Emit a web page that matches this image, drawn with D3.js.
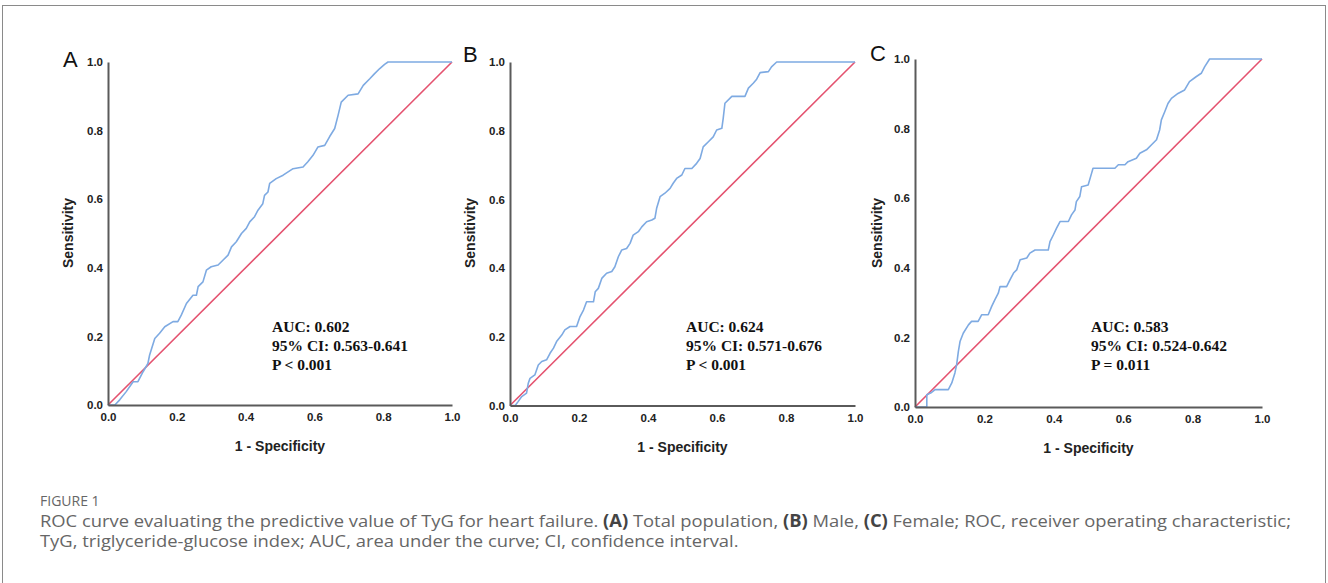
<!DOCTYPE html>
<html>
<head>
<meta charset="utf-8">
<script src="https://cdn.jsdelivr.net/npm/d3@7"></script>
<style>
  html, body { margin: 0; padding: 0; background: #fff; }
  svg { display: block; }
</style>
</head>
<body>
<svg id="chart" width="1328" height="583"></svg>
<script>
// ---------------- DATA ----------------
const panelLetters = ["A", "B", "C"];
const tickValues = [0.0, 0.2, 0.4, 0.6, 0.8, 1.0];
const xAxisTitle = "1 - Specificity";
const yAxisTitle = "Sensitivity";

const rocA_fpr = [0, 0.02, 0.034, 0.053, 0.073, 0.087, 0.102, 0.116, 0.121, 0.136, 0.150, 0.165, 0.189, 0.203, 0.213, 0.228, 0.247, 0.257, 0.262, 0.276, 0.286, 0.300, 0.320, 0.334, 0.349, 0.359, 0.373, 0.388, 0.402, 0.412, 0.426, 0.436, 0.450, 0.455, 0.465, 0.470, 0.489, 0.509, 0.538, 0.567, 0.581, 0.596, 0.610, 0.630, 0.644, 0.659, 0.669, 0.678, 0.698, 0.727, 0.742, 0.761, 0.775, 0.790, 0.804, 0.814, 1.0];
const rocA_tpr = [0, 0.0, 0.015, 0.039, 0.068, 0.068, 0.097, 0.121, 0.146, 0.194, 0.209, 0.228, 0.243, 0.243, 0.262, 0.296, 0.320, 0.320, 0.345, 0.359, 0.393, 0.403, 0.408, 0.422, 0.437, 0.461, 0.476, 0.500, 0.515, 0.534, 0.549, 0.568, 0.587, 0.611, 0.621, 0.646, 0.660, 0.670, 0.689, 0.694, 0.709, 0.728, 0.752, 0.757, 0.782, 0.806, 0.845, 0.883, 0.903, 0.907, 0.932, 0.951, 0.966, 0.981, 0.993, 1.0, 1.0];

const rocB_fpr = [0, 0.015, 0.024, 0.034, 0.048, 0.053, 0.058, 0.072, 0.082, 0.092, 0.106, 0.116, 0.126, 0.135, 0.150, 0.159, 0.174, 0.193, 0.203, 0.213, 0.222, 0.242, 0.247, 0.256, 0.266, 0.280, 0.295, 0.304, 0.314, 0.324, 0.338, 0.348, 0.357, 0.372, 0.382, 0.396, 0.411, 0.420, 0.425, 0.435, 0.449, 0.464, 0.473, 0.483, 0.498, 0.507, 0.527, 0.541, 0.551, 0.560, 0.575, 0.589, 0.599, 0.614, 0.618, 0.623, 0.643, 0.681, 0.691, 0.705, 0.715, 0.725, 0.749, 0.758, 0.773, 1.0];
const rocB_tpr = [0, 0.0, 0.012, 0.026, 0.036, 0.065, 0.079, 0.089, 0.118, 0.128, 0.133, 0.152, 0.167, 0.186, 0.205, 0.220, 0.230, 0.230, 0.259, 0.278, 0.302, 0.302, 0.331, 0.341, 0.370, 0.385, 0.390, 0.404, 0.433, 0.453, 0.457, 0.472, 0.496, 0.506, 0.520, 0.535, 0.540, 0.545, 0.574, 0.608, 0.618, 0.632, 0.647, 0.661, 0.671, 0.690, 0.690, 0.705, 0.719, 0.753, 0.768, 0.782, 0.802, 0.807, 0.836, 0.880, 0.900, 0.900, 0.924, 0.938, 0.950, 0.969, 0.972, 0.986, 1.0, 1.0];

const rocC_fpr = [0, 0.034, 0.034, 0.045, 0.058, 0.096, 0.106, 0.115, 0.120, 0.125, 0.130, 0.139, 0.154, 0.163, 0.182, 0.192, 0.211, 0.221, 0.230, 0.240, 0.245, 0.264, 0.274, 0.284, 0.293, 0.303, 0.322, 0.331, 0.346, 0.384, 0.389, 0.399, 0.408, 0.418, 0.442, 0.451, 0.461, 0.465, 0.475, 0.480, 0.499, 0.509, 0.513, 0.576, 0.586, 0.605, 0.614, 0.638, 0.648, 0.667, 0.681, 0.696, 0.705, 0.710, 0.720, 0.729, 0.739, 0.758, 0.777, 0.791, 0.810, 0.825, 0.835, 0.849, 1.0];
const rocC_tpr = [0, 0.0, 0.035, 0.040, 0.050, 0.050, 0.069, 0.098, 0.122, 0.160, 0.189, 0.212, 0.236, 0.246, 0.246, 0.265, 0.265, 0.289, 0.308, 0.327, 0.346, 0.346, 0.366, 0.385, 0.394, 0.423, 0.428, 0.442, 0.451, 0.451, 0.475, 0.495, 0.514, 0.533, 0.533, 0.552, 0.566, 0.590, 0.605, 0.633, 0.638, 0.672, 0.686, 0.686, 0.696, 0.696, 0.705, 0.715, 0.729, 0.739, 0.753, 0.768, 0.796, 0.825, 0.849, 0.872, 0.887, 0.901, 0.911, 0.935, 0.949, 0.959, 0.978, 1.0, 1.0];

const annotA = ["AUC: 0.602", "95% CI: 0.563-0.641", "P < 0.001"];
const annotB = ["AUC: 0.624", "95% CI: 0.571-0.676", "P < 0.001"];
const annotC = ["AUC: 0.583", "95% CI: 0.524-0.642", "P = 0.011"];

const captionLabel = "FIGURE 1";
const captionLine1 = [
  {t: "ROC curve evaluating the predictive value of TyG for heart failure. ", b: false},
  {t: "(A)", b: true}, {t: " Total population, ", b: false},
  {t: "(B)", b: true}, {t: " Male, ", b: false},
  {t: "(C)", b: true}, {t: " Female; ROC, receiver operating characteristic;", b: false}
];
const captionLine2 = "TyG, triglyceride-glucose index; AUC, area under the curve; CI, confidence interval.";

// ---------------- LAYOUT ----------------
const svg = d3.select("#chart");

svg.append("rect")
  .attr("x", 2.5).attr("y", 5.5).attr("width", 1323).attr("height", 600)
  .attr("fill", "none").attr("stroke", "#8a8a8a").attr("stroke-width", 1);

const panels = [
  {letter: panelLetters[0], fpr: rocA_fpr, tpr: rocA_tpr, annot: annotA,
   x0: 108, x1: 452, y0: 405, y1: 62, lx: 63, ly: 67, ylx: 68, ax: 272},
  {letter: panelLetters[1], fpr: rocB_fpr, tpr: rocB_tpr, annot: annotB,
   x0: 510, x1: 855, y0: 405.5, y1: 62, lx: 463, ly: 62, ylx: 470, ax: 686},
  {letter: panelLetters[2], fpr: rocC_fpr, tpr: rocC_tpr, annot: annotC,
   x0: 915, x1: 1262, y0: 407, y1: 59, lx: 870, ly: 61, ylx: 877, ax: 1091}
];

const axisColor = "#5a5a5a";
const curveColor = "#7eaae2";
const diagColor = "#e4526f";
const tickFont = "'Liberation Sans', Arial, sans-serif";

panels.forEach(p => {
  const x = d3.scaleLinear().domain([0, 1]).range([p.x0, p.x1]);
  const y = d3.scaleLinear().domain([0, 1]).range([p.y0, p.y1]);
  const g = svg.append("g");

  g.append("path")
    .datum([[0, 0], [1, 1]])
    .attr("d", d3.line().x(d => x(d[0])).y(d => y(d[1])))
    .attr("fill", "none").attr("stroke", diagColor).attr("stroke-width", 1.6);

  const pts = p.fpr.map((v, i) => [v, p.tpr[i]]);
  g.append("path")
    .datum(pts)
    .attr("d", d3.line().x(d => x(d[0])).y(d => y(d[1])))
    .attr("fill", "none").attr("stroke", curveColor).attr("stroke-width", 1.6)
    .attr("stroke-linejoin", "round");

  const xAxis = d3.axisBottom(x).tickValues(tickValues).tickSize(0).tickPadding(8)
    .tickFormat(d3.format(".1f"));
  const yAxis = d3.axisLeft(y).tickValues(tickValues).tickSize(0).tickPadding(5)
    .tickFormat(d3.format(".1f"));

  const gx = g.append("g").attr("transform", `translate(0,${p.y0})`).call(xAxis);
  const gy = g.append("g").attr("transform", `translate(${p.x0},0)`).call(yAxis);
  [gx, gy].forEach(a => {
    a.select(".domain").attr("stroke", axisColor).attr("stroke-width", 2);
    a.selectAll("text")
      .attr("font-family", tickFont).attr("font-weight", "bold")
      .attr("font-size", 11.5).attr("fill", "#222");
  });

  g.append("text")
    .attr("x", (p.x0 + p.x1) / 2).attr("y", p.y0 + 46)
    .attr("text-anchor", "middle")
    .attr("font-family", tickFont).attr("font-weight", "bold").attr("font-size", 14)
    .attr("fill", "#222").text(xAxisTitle);
  g.append("text")
    .attr("transform", `translate(${p.ylx + 5},233) rotate(-90)`)
    .attr("text-anchor", "middle")
    .attr("font-family", tickFont).attr("font-weight", "bold").attr("font-size", 14)
    .attr("fill", "#222").text(yAxisTitle);

  g.append("text")
    .attr("x", p.lx).attr("y", p.ly)
    .attr("font-family", tickFont).attr("font-size", 22).attr("fill", "#111")
    .text(p.letter);

  p.annot.forEach((t, i) => {
    g.append("text")
      .attr("x", p.ax).attr("y", 331.5 + i * 19)
      .attr("font-family", "'Liberation Serif', 'Times New Roman', serif")
      .attr("font-weight", "bold").attr("font-size", 15.5).attr("fill", "#111")
      .text(t);
  });
});

// ---------------- CAPTION ----------------
const capFont = "'Open Sans', 'Noto Sans', sans-serif";
svg.append("text")
  .attr("x", 40).attr("y", 506)
  .attr("font-family", capFont).attr("font-size", 14).attr("fill", "#666")
  .text(captionLabel);

const capSize = 17;
const l1 = svg.append("text")
  .attr("x", 40).attr("y", 526.5)
  .attr("font-family", capFont).attr("font-size", capSize).attr("fill", "#666");
captionLine1.forEach(s => {
  l1.append("tspan").attr("font-weight", s.b ? "bold" : "normal")
    .attr("fill", s.b ? "#444" : "#666").text(s.t);
});
const l2 = svg.append("text")
  .attr("x", 40).attr("y", 547)
  .attr("font-family", capFont).attr("font-size", capSize).attr("fill", "#666")
  .text(captionLine2);

// squeeze glyphs so line 1 spans the reference width (40 -> 1291)
const w1 = l1.node().getComputedTextLength();
const w2 = l2.node().getComputedTextLength();
const k = 1251 / w1;
l1.attr("textLength", 1251).attr("lengthAdjust", "spacingAndGlyphs");
l2.attr("textLength", w2 * k).attr("lengthAdjust", "spacingAndGlyphs");
</script>
</body>
</html>
